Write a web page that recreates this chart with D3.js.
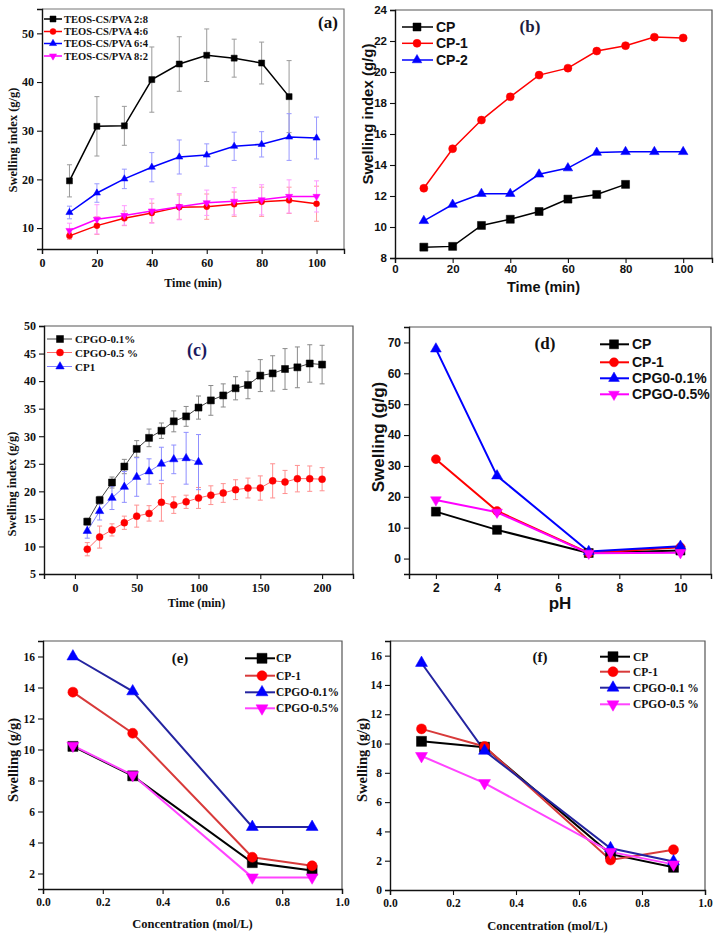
<!DOCTYPE html>
<html><head><meta charset="utf-8">
<script src="https://cdn.jsdelivr.net/npm/d3@7"></script>
<style>html,body{margin:0;padding:0;background:#fff;}svg{display:block;}</style>
</head><body>
<svg id="chart" width="719" height="938"></svg>
<script>
// ---------------- DATA ----------------
// Panel (a)
const timeA = [10,20,30,40,50,60,70,80,90,100];
const a28 = [19.7,30.9,31.0,40.5,43.7,45.5,44.9,43.9,37.0];
const a28Err = [3.3,6.1,4.0,6.7,5.6,5.4,3.9,4.3,7.4];
const a46 = [8.4,10.5,12.0,13.1,14.3,14.4,14.9,15.4,15.7,15.0];
const a46Err = [0.7,1.8,1.5,2.0,2.5,2.6,2.5,3.0,2.7,3.6];
const a64 = [13.2,17.2,20.1,22.5,24.6,25.0,26.8,27.2,28.7,28.5];
const a64Err = [1.3,1.9,2.0,3.0,3.5,2.3,2.9,2.6,4.8,4.3];
const a82 = [9.5,11.8,12.6,13.5,14.4,15.2,15.5,15.8,16.5,16.5];
const a82Err = [1.5,3.0,2.0,2.5,2.7,2.6,2.8,3.1,3.4,3.2];
const namesA = ["TEOS-CS/PVA 2:8","TEOS-CS/PVA 4:6","TEOS-CS/PVA 6:4","TEOS-CS/PVA 8:2"];
const xTicksA = [0,20,40,60,80,100];
const yTicksA = [10,20,30,40,50];

// Panel (b)
const timeB = [10,20,30,40,50,60,70,80,90,100];
const bCP = [8.7,8.75,10.1,10.5,11.0,11.8,12.1,12.75];
const bCP1 = [12.5,15.05,16.9,18.4,19.8,20.25,21.35,21.7,22.25,22.2];
const bCP2 = [10.4,11.45,12.15,12.15,13.4,13.8,14.8,14.85,14.85,14.85];
const namesB = ["CP","CP-1","CP-2"];
const xTicksB = [0,20,40,60,80,100];
const yTicksB = [8,10,12,14,16,18,20,22,24];

// Panel (c)
const timeC = [10,20,30,40,50,60,70,80,90,100,110,120,130,140,150,160,170,180,190,200];
const cGO01 = [14.5,18.4,21.6,24.5,27.7,29.7,31.0,32.7,33.6,35.2,36.5,37.4,38.7,39.3,41.0,41.4,42.2,42.5,43.2,43.0];
const cGO01Err = [0.6,0.7,1.0,1.3,1.5,1.6,1.4,1.9,1.8,2.1,2.7,2.1,2.1,2.5,2.9,3.2,3.7,3.7,3.4,3.5];
const cGO05 = [9.5,11.7,13.0,14.3,15.5,16.0,18.0,17.5,18.1,18.8,19.3,19.7,20.3,20.6,20.6,21.9,21.7,22.3,22.3,22.2];
const cGO05Err = [1.2,2.0,1.1,1.2,2.0,1.4,3.4,1.5,1.2,1.9,1.7,1.7,1.8,1.8,2.2,3.1,2.1,2.4,2.3,2.1];
const cCP1 = [12.8,16.4,18.8,20.8,22.6,23.6,25.0,25.8,26.0,25.3];
const cCP1Err = [1.3,1.6,2.1,2.8,3.5,2.3,3.0,2.6,4.7,5.0];
const namesC = ["CPGO-0.1%","CPGO-0.5 %","CP1"];
const xTicksC = [0,50,100,150,200];
const yTicksC = [5,10,15,20,25,30,35,40,45,50];

// Panel (d)
const pH = [2,4,7,10];
const dCP = [15.2,9.3,1.8,2.6];
const dCP1 = [32.2,15.4,1.8,3.7];
const dGO01 = [67.9,26.8,2.3,4.0];
const dGO05 = [19.0,15.0,1.7,1.9];
const namesD = ["CP","CP-1","CPG0-0.1%","CPGO-0.5%"];
const xTicksD = [2,4,6,8,10];
const yTicksD = [0,10,20,30,40,50,60,70];

// Panel (e)
const conc = [0.1,0.3,0.7,0.9];
const eCP = [10.2,8.3,2.7,2.2];
const eCP1 = [13.7,11.05,3.05,2.5];
const eGO01 = [16.0,13.75,5.0,5.0];
const eGO05 = [10.25,8.35,1.75,1.75];
const namesE = ["CP","CP-1","CPGO-0.1%","CPGO-0.5%"];
const xTicksE = [0.0,0.2,0.4,0.6,0.8,1.0];
const yTicksE = [2,4,6,8,10,12,14,16];

// Panel (f)
const fCP = [10.15,9.75,2.45,1.55];
const fCP1 = [11.0,9.8,2.05,2.75];
const fGO01 = [15.5,9.5,2.85,1.95];
const fGO05 = [9.15,7.3,2.6,1.75];
const namesF = ["CP","CP-1","CPGO-0.1 %","CPGO-0.5 %"];
const xTicksF = [0.0,0.2,0.4,0.6,0.8,1.0];
const yTicksF = [0,2,4,6,8,10,12,14,16];

// ---------------- DRAWING ----------------
const SERIF = "'Liberation Serif','Times New Roman',serif";
const SANS = "'Liberation Sans',Arial,sans-serif";
const svg = d3.select("#chart");
svg.append("rect").attr("width",719).attr("height",938).attr("fill","#fff");

function symPath(shape, s){
  let type, area, rot = 0;
  if(shape==="square"){type=d3.symbolSquare; area=s*s;}
  else if(shape==="circle"){type=d3.symbolCircle; area=Math.PI*s*s/4;}
  else {type=d3.symbolTriangle; area=0.62*s*s; if(shape==="down") rot=180;}
  return {d:d3.symbol().type(type).size(area)(), rot};
}

function minorBetween(major, step, domain){
  const out=[];
  const lo=domain[0], hi=domain[1];
  const start=Math.ceil((lo-1e-9)/step)*step;
  for(let v=start; v<=hi+1e-9; v+=step){
    const r=Math.round(v*1e6)/1e6;
    if(!major.some(m=>Math.abs(m-r)<1e-6)) out.push(r);
  }
  return out;
}

function panel(c){
  const g = svg.append("g");
  const x = d3.scaleLinear().domain(c.xDomain).range([c.left,c.right]);
  const y = d3.scaleLinear().domain(c.yDomain).range([c.bottom,c.top]);
  g.append("path").attr("d",`M${c.left},${c.top}H${c.right}V${c.bottom}`)
    .attr("fill","none").attr("stroke",c.frameColor||"#555").attr("stroke-width",1.2);
  const xMinor = minorBetween(c.xTicks,c.xMinorStep,c.xDomain);
  const yMinor = minorBetween(c.yTicks,c.yMinorStep,c.yDomain);
  const axX = g.append("g").attr("transform",`translate(0,${c.bottom})`);
  axX.call(d3.axisBottom(x).tickValues(xMinor).tickSize(3).tickFormat(""));
  axX.call(d3.axisBottom(x).tickValues(c.xTicks).tickSize(5).tickPadding(c.xPad||4).tickFormat(c.xFmt));
  const axY = g.append("g").attr("transform",`translate(${c.left},0)`);
  axY.call(d3.axisLeft(y).tickValues(yMinor).tickSize(3).tickFormat(""));
  axY.call(d3.axisLeft(y).tickValues(c.yTicks).tickSize(5).tickPadding(c.yPad||3).tickFormat(c.yFmt));
  [axX,axY].forEach(a=>{
    a.selectAll("path.domain").attr("stroke","#111").attr("stroke-width",1.4);
    a.selectAll(".tick line").attr("stroke","#111").attr("stroke-width",1.1);
    a.selectAll(".tick text").attr("font-family",c.font).attr("font-weight","bold")
      .attr("font-size",c.tickSize).attr("fill","#111");
  });
  g.append("text").attr("x",(c.left+c.right)/2+(c.xTitleDx||0)).attr("y",c.xTitleY)
    .attr("text-anchor","middle").attr("dominant-baseline","central")
    .attr("font-family",c.font).attr("font-weight","bold").attr("font-size",c.titleSize)
    .attr("fill","#111").text(c.xTitle);
  g.append("text").attr("transform",`translate(${c.yTitleX},${c.yTitleY}) rotate(-90)`)
    .attr("text-anchor","middle").attr("dominant-baseline","central")
    .attr("font-family",c.font).attr("font-weight","bold").attr("font-size",c.yTitleSize||c.titleSize)
    .attr("fill","#111").text(c.yTitle);
  g.append("text").attr("x",c.labelX).attr("y",c.labelY).attr("text-anchor","middle")
    .attr("dominant-baseline","central").attr("font-family",SERIF).attr("font-weight","bold")
    .attr("font-size",c.labelSize).attr("fill",c.labelColor||"#111").text(c.label);
  const pts = s => s.y.map((v,i)=>({x:s.x[i], y:v, e:s.err?s.err[i]:0}));
  c.series.forEach(s=>{
    if(!s.err) return;
    const eg = g.append("g").attr("stroke",s.errColor).attr("stroke-width",1).attr("fill","none");
    pts(s).forEach(p=>{
      const cx=x(p.x), y1=y(p.y+p.e), y2=y(p.y-p.e), w=c.capW||2.5;
      eg.append("path").attr("d",`M${cx},${y1}V${y2}M${cx-w},${y1}H${cx+w}M${cx-w},${y2}H${cx+w}`);
    });
  });
  const line = d3.line().x(d=>x(d.x)).y(d=>y(d.y));
  c.series.forEach(s=>{
    g.append("path").datum(pts(s)).attr("d",line).attr("fill","none")
      .attr("stroke",s.lineColor||s.color).attr("stroke-width",c.lw);
  });
  c.series.forEach(s=>{
    const sp = symPath(s.shape,c.ms);
    g.selectAll(null).data(pts(s)).enter().append("path").attr("d",sp.d)
      .attr("transform",d=>`translate(${x(d.x)},${y(d.y)}) rotate(${sp.rot})`)
      .attr("fill",s.color).attr("stroke",s.color).attr("stroke-width",0.5);
  });
  const L=c.legend;
  c.series.forEach((s,i)=>{
    const ly=L.rows[i];
    g.append("line").attr("x1",L.x1).attr("x2",L.x2).attr("y1",ly).attr("y2",ly)
      .attr("stroke",s.lineColor||s.color).attr("stroke-width",L.lw||c.lw);
    const sp=symPath(s.shape,L.ms||c.ms);
    g.append("path").attr("d",sp.d).attr("transform",`translate(${L.mx},${ly}) rotate(${sp.rot})`)
      .attr("fill",s.color).attr("stroke",s.color).attr("stroke-width",0.5);
    g.append("text").attr("x",L.tx).attr("y",ly).attr("dominant-baseline","central")
      .attr("font-family",c.font).attr("font-weight","bold").attr("font-size",L.size)
      .attr("fill","#111").text(s.name);
  });
}

const fmtInt = d3.format("d");
const fmt1 = d3.format(".1f");
const BLK="#000000", RED="#ff0000", BLU="#0000ff", MAG="#ff00ff";

// (a)
panel({id:"a", left:42, right:344, top:9, bottom:249, xDomain:[0,110], yDomain:[5.7,55],
  xTicks:xTicksA, xMinorStep:10, yTicks:yTicksA, yMinorStep:5, xFmt:fmtInt, yFmt:fmtInt,
  font:SERIF, tickSize:12, titleSize:12, yTitleSize:12.5, xTitle:"Time (min)", xTitleY:283,
  yTitle:"Swelling index (g/g)", yTitleX:13, yTitleY:140,
  label:"(a)", labelX:328, labelY:22, labelSize:17, lw:1.5, ms:6, capW:2.5, frameColor:"#777",
  legend:{x1:44,x2:62,mx:53,tx:64,rows:[19,31.5,43.5,56],size:10.5},
  series:[
    {name:namesA[0], x:timeA, y:a28, err:a28Err, color:BLK, errColor:"#9a9a9a", shape:"square"},
    {name:namesA[1], x:timeA, y:a46, err:a46Err, color:RED, errColor:"#ff9a9a", shape:"circle"},
    {name:namesA[2], x:timeA, y:a64, err:a64Err, color:BLU, errColor:"#9a9aff", shape:"triangle"},
    {name:namesA[3], x:timeA, y:a82, err:a82Err, color:MAG, errColor:"#ff9aff", shape:"down"}
  ]});

// (b)
panel({id:"b", left:395, right:712, top:10, bottom:258, xDomain:[0,110], yDomain:[8,24],
  xTicks:xTicksB, xMinorStep:10, yTicks:yTicksB, yMinorStep:1, xFmt:fmtInt, yFmt:fmtInt,
  font:SANS, tickSize:11.5, titleSize:14.5, xTitle:"Time (min)", xTitleY:287, xTitleDx:-10, xPad:2,
  yTitle:"Swelling index (g/g)", yTitleX:367, yTitleY:114, yTitleSize:15,
  label:"(b)", labelX:530, labelY:26, labelSize:17, labelColor:"#1c1c40", lw:1.5, ms:8, frameColor:"#555",
  legend:{x1:402,x2:433,mx:417,tx:436,rows:[27,43.3,60],size:14},
  series:[
    {name:namesB[0], x:timeB, y:bCP, color:BLK, shape:"square"},
    {name:namesB[1], x:timeB, y:bCP1, color:RED, shape:"circle"},
    {name:namesB[2], x:timeB, y:bCP2, color:BLU, shape:"triangle"}
  ]});

// (c)
panel({id:"c", left:44, right:353, top:326, bottom:574, xDomain:[-25,225], yDomain:[5,50],
  xTicks:xTicksC, xMinorStep:25, yTicks:yTicksC, yMinorStep:2.5, xFmt:fmtInt, yFmt:fmtInt,
  font:SERIF, tickSize:12, titleSize:12, yTitleSize:12.5, xTitle:"Time (min)", xTitleY:603, xTitleDx:-2,
  yTitle:"Swelling index (g/g)", yTitleX:12, yTitleY:484,
  label:"(c)", labelX:197, labelY:350, labelSize:18, labelColor:"#1a1a60", lw:1, ms:7, capW:2.5, frameColor:"#555",
  legend:{x1:47,x2:72,mx:60,tx:75,rows:[339,352.5,366.5],size:11, lw:1},
  series:[
    {name:namesC[0], x:timeC, y:cGO01, err:cGO01Err, color:BLK, lineColor:"#444", errColor:"#8a8a8a", shape:"square"},
    {name:namesC[1], x:timeC, y:cGO05, err:cGO05Err, color:RED, lineColor:"#ff6a6a", errColor:"#ff9090", shape:"circle"},
    {name:namesC[2], x:timeC.slice(0,10), y:cCP1, err:cCP1Err, color:BLU, lineColor:"#8080ff", errColor:"#8f8fff", shape:"triangle"}
  ]});

// (d)
panel({id:"d", left:409, right:711, top:327, bottom:574, xDomain:[1.12,11], yDomain:[-5,75],
  xTicks:xTicksD, xMinorStep:1, yTicks:yTicksD, yMinorStep:5, xFmt:fmtInt, yFmt:fmtInt,
  font:SANS, tickSize:12, titleSize:17, xTitle:"pH", xTitleY:603,
  yTitle:"Swelling (g/g)", yTitleX:378, yTitleY:437,
  label:"(d)", labelX:545, labelY:343, labelSize:17, lw:2, ms:9, frameColor:"#555",
  legend:{x1:600,x2:629,mx:614,tx:632,rows:[344.3,362.3,378.3,394.3],size:14},
  series:[
    {name:namesD[0], x:pH, y:dCP, color:BLK, shape:"square"},
    {name:namesD[1], x:pH, y:dCP1, color:RED, shape:"circle"},
    {name:namesD[2], x:pH, y:dGO01, color:BLU, shape:"triangle"},
    {name:namesD[3], x:pH, y:dGO05, color:MAG, shape:"down"}
  ]});

// (e)
panel({id:"e", left:43, right:342, top:641, bottom:889, xDomain:[0,1], yDomain:[1,17],
  xTicks:xTicksE, xMinorStep:0.1, yTicks:yTicksE, yMinorStep:1, xFmt:fmt1, yFmt:fmtInt,
  font:SERIF, tickSize:11.5, titleSize:12.5, xTitle:"Concentration (mol/L)", xTitleY:924,
  yTitle:"Swelling (g/g)", yTitleX:13, yTitleY:760, yTitleSize:14.5,
  label:"(e)", labelX:180, labelY:658, labelSize:15, lw:2, ms:10, frameColor:"#555",
  legend:{x1:245,x2:275,mx:262,tx:276,rows:[658.3,675.7,692.3,708.3],size:11.5},
  series:[
    {name:namesE[0], x:conc, y:eCP, color:BLK, shape:"square"},
    {name:namesE[1], x:conc, y:eCP1, color:RED, lineColor:"#d83a3a", shape:"circle"},
    {name:namesE[2], x:conc, y:eGO01, color:BLU, lineColor:"#2424a0", shape:"triangle"},
    {name:namesE[3], x:conc, y:eGO05, color:MAG, lineColor:"#ff44ff", shape:"down"}
  ]});

// (f)
panel({id:"f", left:390, right:705, top:641, bottom:890, xDomain:[0,1], yDomain:[0,17],
  xTicks:xTicksF, xMinorStep:0.1, yTicks:yTicksF, yMinorStep:1, xFmt:fmt1, yFmt:fmtInt,
  font:SERIF, tickSize:11.5, titleSize:12.5, xTitle:"Concentration (mol/L)", xTitleY:926,
  yTitle:"Swelling (g/g)", yTitleX:362, yTitleY:760, yTitleSize:14.5,
  label:"(f)", labelX:540, labelY:657, labelSize:15, lw:2, ms:10, frameColor:"#555",
  legend:{x1:600,x2:630,mx:613,tx:633,rows:[656.7,671.7,687.7,704.3],size:11.5},
  series:[
    {name:namesF[0], x:conc, y:fCP, color:BLK, shape:"square"},
    {name:namesF[1], x:conc, y:fCP1, color:RED, lineColor:"#d83a3a", shape:"circle"},
    {name:namesF[2], x:conc, y:fGO01, color:BLU, lineColor:"#2424a0", shape:"triangle"},
    {name:namesF[3], x:conc, y:fGO05, color:MAG, lineColor:"#ff44ff", shape:"down"}
  ]});
</script>
</body></html>
